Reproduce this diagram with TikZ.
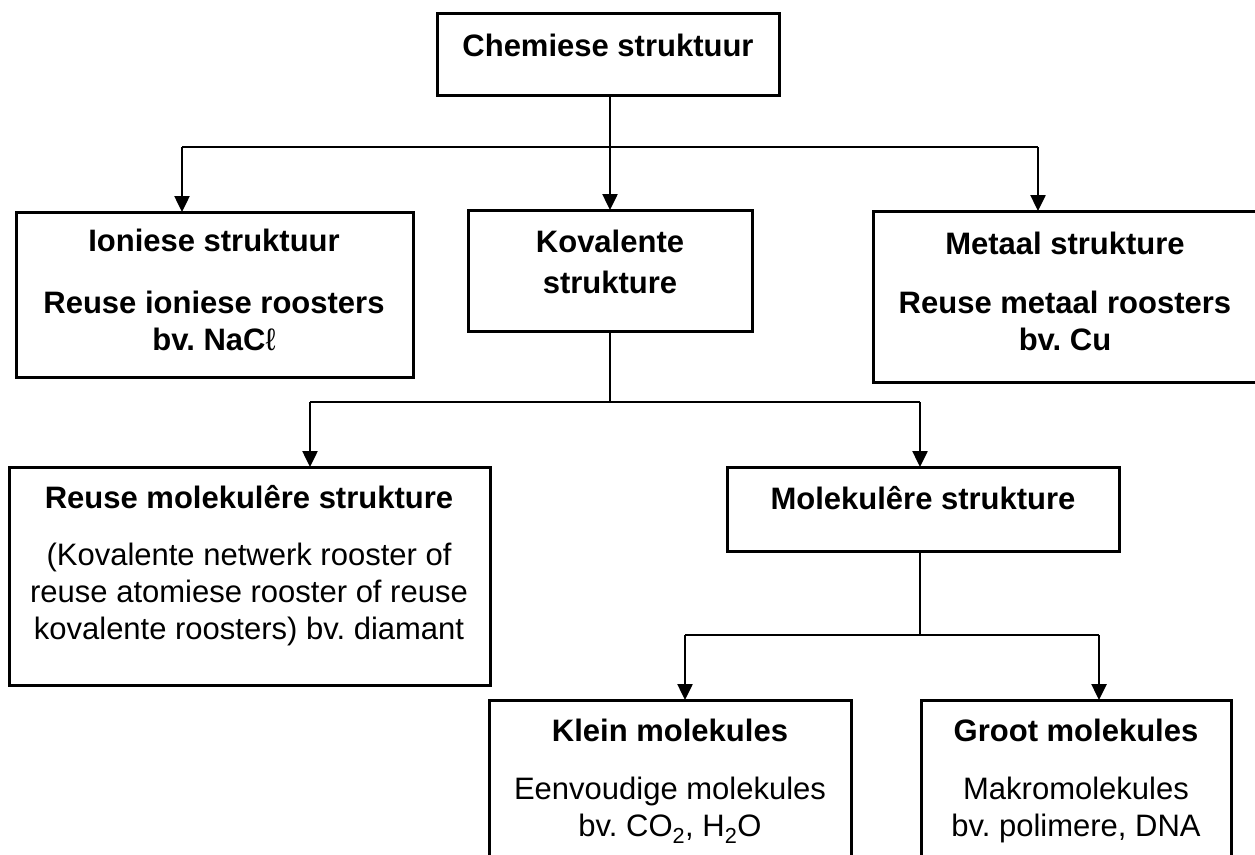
\documentclass[tikz,border=0pt]{standalone}
\usepackage{fontspec}
\setmainfont{Liberation Sans}
\usetikzlibrary{arrows.meta}
\frenchspacing
\begin{document}
\begin{tikzpicture}[x=1pt,y=-1pt,
  box/.style={draw, line width=3pt, inner sep=0pt, outer sep=0pt},
  conn/.style={line width=2.5pt},
  arr/.style={conn, -{Triangle[length=16pt,width=15pt]}},
  ttl/.style={font=\fontsize{31}{37}\selectfont\bfseries, align=center, inner sep=0pt},
  txt/.style={font=\fontsize{31}{37}\selectfont, align=center, inner sep=0pt}]

% canvas
\useasboundingbox (0,0) rectangle (1255,854);
\fill[white] (0,0) rectangle (1255,854);
\clip (0,0) rectangle (1255,854);

% boxes
\node[box, minimum width=342pt, minimum height=82pt]  (chem)  at (608,54)    {};
\node[box, minimum width=397pt, minimum height=165pt] (ion)   at (214.5,294.5) {};
\node[box, minimum width=284pt, minimum height=121pt] (kov)   at (610,270.5) {};
\node[box, minimum width=385pt, minimum height=171pt] (met)   at (1065.5,296.5) {};
\node[box, minimum width=481pt, minimum height=218pt] (reuse) at (249.5,576) {};
\node[box, minimum width=392pt, minimum height=84pt]  (mol)   at (923,509)   {};
\node[box, minimum width=362pt, minimum height=200pt] (klein) at (670,800)   {};
\node[box, minimum width=310pt, minimum height=200pt] (groot) at (1076,800)  {};

% texts
\node[ttl] (chemT)  at (608,45)  {Chemiese struktuur};
\node[ttl] (ionT)   at (214,240) {Ioniese struktuur};
\node[ttl] (ionB)   at (214,321) {Reuse ioniese roosters\\bv. NaC{\mdseries ℓ}};
\node[ttl] (kovT)   at (610,262) {Kovalente\\[4pt]strukture};
\node[ttl] (metT)   at (1065,243) {Metaal strukture};
\node[ttl] (metB)   at (1065,321) {Reuse metaal roosters\\bv. Cu};
\node[ttl] (reuseT) at (249,497) {Reuse molekulêre strukture};
\node[txt] (reuseB) at (249,594) {(Kovalente netwerk rooster of\\reuse atomiese rooster of reuse\\kovalente roosters) bv. diamant};
\node[ttl] (molT)   at (923,498) {Molekulêre strukture};
\node[ttl] (kleinT) at (670,730) {Klein molekules};
\node[txt] (kleinB) at (670,810) {Eenvoudige molekules\\bv. CO\textsubscript{2}, H\textsubscript{2}O};
\node[ttl] (grootT) at (1076,730) {Groot molekules};
\node[txt] (grootB) at (1076,810) {Makromolekules\\bv. polimere, DNA};

% junction points
\coordinate (s1)  at (610,147);
\coordinate (s1l) at (182,147);
\coordinate (s1r) at (1038,147);
\coordinate (s2)  at (610,402);
\coordinate (s2l) at (310,402);
\coordinate (s2r) at (920,402);
\coordinate (s3)  at (920,635);
\coordinate (s3l) at (685,635);
\coordinate (s3r) at (1099,635);

% first level
\draw[conn] (s1 |- chem.south) -- (s1);
\draw[conn] (s1l) -- (s1r);
\draw[arr] (s1l) -- (s1l |- ion.north);
\draw[arr] (s1) -- (s1 |- kov.north);
\draw[arr] (s1r) -- (s1r |- met.north);

% covalent split
\draw[conn] (s2 |- kov.south) -- (s2);
\draw[conn] (s2l) -- (s2r);
\draw[arr] (s2l) -- (s2l |- reuse.north);
\draw[arr] (s2r) -- (s2r |- mol.north);

% molecular split
\draw[conn] (s3 |- mol.south) -- (s3);
\draw[conn] (s3l) -- (s3r);
\draw[arr] (s3l) -- (s3l |- klein.north);
\draw[arr] (s3r) -- (s3r |- groot.north);
\end{tikzpicture}
\end{document}
